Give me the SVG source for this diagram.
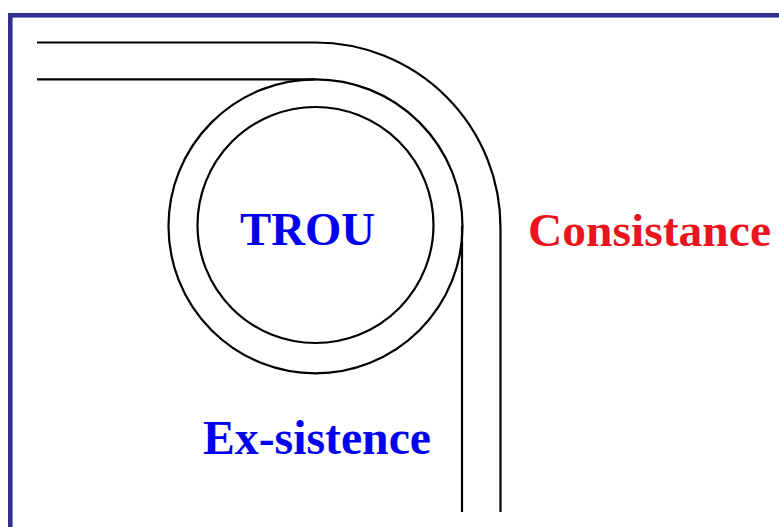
<svg xmlns="http://www.w3.org/2000/svg" width="779" height="527" viewBox="0 0 779 527">
<style>
.ln{fill:none;stroke:#000;stroke-width:2.2}
.lbl{font-family:"Liberation Serif","Times New Roman",serif;font-weight:bold}
.blue{fill:#0000F0}
.red{fill:#E8141E}
</style>
<rect width="779" height="527" fill="#fff"/>
<g id="frame" fill="#2E3192">
<rect x="8" y="13" width="771" height="4.6"/>
<rect x="8" y="13" width="4.6" height="514"/>
</g>
<g id="connectors">
<path class="ln" d="M37 42.5 H315.5 A185 185 0 0 1 500.5 227.5 V512"/>
<path class="ln" d="M37 79.3 H315.5"/>
<path class="ln" d="M462 226 V512"/>
</g>
<g id="outer-circle">
<circle class="ln" cx="315.5" cy="226.3" r="147"/>
</g>
<g id="inner-circle">
<circle class="ln" cx="315.5" cy="225" r="118"/>
</g>
<g id="trou">
<text class="lbl blue" x="240" y="245" font-size="46" textLength="135" lengthAdjust="spacingAndGlyphs">TROU</text>
</g>
<g id="consistance">
<text class="lbl red" x="528" y="246" font-size="46" textLength="243" lengthAdjust="spacingAndGlyphs">Consistance</text>
</g>
<g id="ex-sistence">
<text class="lbl blue" x="203" y="454" font-size="47.5" textLength="228" lengthAdjust="spacingAndGlyphs">Ex-sistence</text>
</g>
</svg>
